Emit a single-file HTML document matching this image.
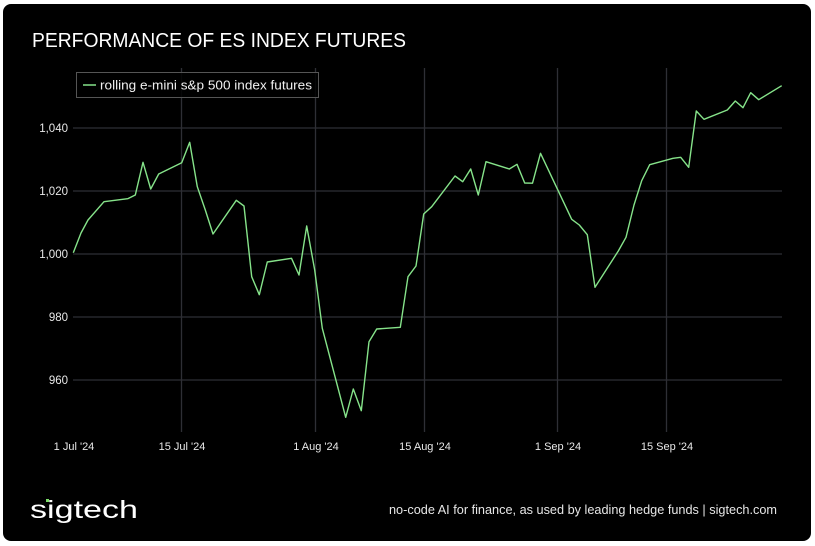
<!DOCTYPE html>
<html><head><meta charset="utf-8"><style>
html,body{margin:0;padding:0;background:#fff;width:815px;height:546px;overflow:hidden}
svg{display:block}
text{font-family:"Liberation Sans",sans-serif}
</style></head><body>
<svg width="815" height="546" viewBox="0 0 815 546">
<rect x="3" y="4" width="808" height="537" rx="8" fill="#000"/>
<text x="32" y="47" font-size="20" fill="#fff" textLength="374" lengthAdjust="spacingAndGlyphs">PERFORMANCE OF ES INDEX FUTURES</text>
<g stroke="#2e2f35" stroke-width="1.3">
<line x1="181.5" y1="68" x2="181.5" y2="432"/>
<line x1="315.5" y1="68" x2="315.5" y2="432"/>
<line x1="424.5" y1="68" x2="424.5" y2="432"/>
<line x1="557.5" y1="68" x2="557.5" y2="432"/>
<line x1="666.5" y1="68" x2="666.5" y2="432"/>
<line x1="73" y1="128" x2="782" y2="128"/>
<line x1="73" y1="191" x2="782" y2="191"/>
<line x1="73" y1="254" x2="782" y2="254"/>
<line x1="73" y1="317" x2="782" y2="317"/>
<line x1="73" y1="380" x2="782" y2="380"/>
</g>
<g font-size="11.5" fill="#e8e8e8" text-anchor="end">
<text x="68" y="132">1,040</text>
<text x="68" y="195">1,020</text>
<text x="68" y="258">1,000</text>
<text x="68" y="321">980</text>
<text x="68" y="384">960</text>
</g>
<g font-size="11" fill="#e8e8e8" text-anchor="middle">
<text x="74" y="450">1 Jul '24</text>
<text x="182" y="450">15 Jul '24</text>
<text x="316" y="450">1 Aug '24</text>
<text x="425" y="450">15 Aug '24</text>
<text x="558" y="450">1 Sep '24</text>
<text x="667" y="450">15 Sep '24</text>
</g>
<polyline fill="none" stroke="#86e38a" stroke-width="1.4" stroke-linejoin="round" points="73.3,252.7 81,233 88,220 104,201.7 127.7,198.7 135.3,195 143,162.3 150.7,189 158.7,174 181.7,162.7 189.7,142.3 197.3,186.7 205.3,210 213,234 236.3,200.3 244,206 251.7,276.7 259.3,294.7 267.3,262 291.5,258.3 299,275 306.7,226 314.7,270 322.3,328.3 345.7,417.3 353.3,389 361.3,410.7 369,341.7 376.7,329 400.3,327.3 408,276.7 416,266 423.7,214 431.7,206.7 455,176 462.7,181.7 470.7,169 478.3,195 486,161.7 509.3,169 517,164.3 524.7,183 532.5,183.2 540.5,153.3 571.7,219.3 579.3,225 587.3,234.7 595,287.3 618.3,251 626,237.3 634,205 641.7,180.7 649.7,164.7 673,158.3 680.7,157.3 688.7,167.3 696.3,111 704,119.3 727.3,110 735.3,101 743,107.7 750.7,92.7 758.7,99.7 781.7,85.7"/>
<rect x="76.5" y="72.5" width="242" height="25" fill="#000" fill-opacity="0.85" stroke="#555" stroke-width="1"/>
<line x1="83" y1="85" x2="96" y2="85" stroke="#86e38a" stroke-width="1.5"/>
<text x="100" y="89.5" font-size="12.5" fill="#f0f0f0" textLength="212" lengthAdjust="spacingAndGlyphs">rolling e-mini s&amp;p 500 index futures</text>
<text x="30" y="518" font-family="'DejaVu Sans Mono',monospace" font-size="25" fill="#fff" textLength="108" lengthAdjust="spacingAndGlyphs">sigtech</text>
<rect x="46" y="499" width="3" height="3" fill="#7ee06a"/>
<text x="389" y="514" font-size="12.5" fill="#e6e6e6" textLength="388" lengthAdjust="spacingAndGlyphs">no-code AI for finance, as used by leading hedge funds | sigtech.com</text>
</svg>
</body></html>
